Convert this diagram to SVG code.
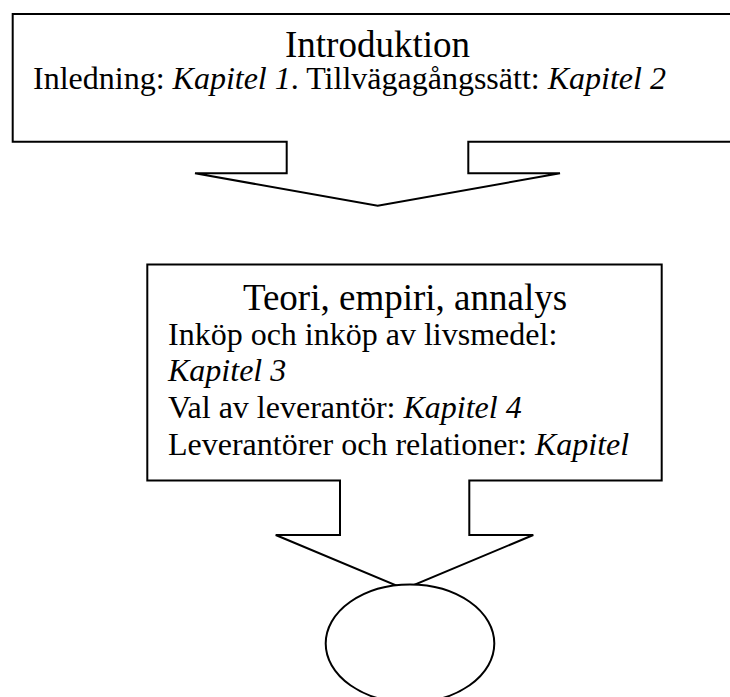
<svg xmlns="http://www.w3.org/2000/svg" width="730" height="697" viewBox="0 0 730 697">
  <style>
    .shape { fill: #ffffff; stroke: #000000; stroke-width: 2; stroke-linejoin: miter; }
    .title { font-family: "Liberation Serif", "Times New Roman", serif; font-size: 37px; fill: #000000; text-anchor: middle; }
    .body { font-family: "Liberation Serif", "Times New Roman", serif; font-size: 32px; fill: #000000; }
    .it { font-style: italic; }
  </style>
  <rect width="730" height="697" fill="#ffffff"/>

  <!-- Down-arrow callout: introduction -->
  <g id="introduktion">
    <path class="shape" d="M12.7,14 H742 V141.7 H468.3 V173.3 H560 L377.7,205.7 L195,173.3 H286.7 V141.7 H12.7 Z"/>
    <text class="title" x="377.5" y="57">Introduktion</text>
    <text class="body" x="33" y="89">Inledning: <tspan class="it">Kapitel 1</tspan>. Tillvägagångssätt: <tspan class="it">Kapitel 2</tspan></text>
  </g>

  <!-- Down-arrow callout: theory, empirics, analysis -->
  <g id="teori">
    <path class="shape" d="M147.3,264.5 H661.7 V480.5 H469.3 V535 H533.3 L404.5,589 L275.7,535 H340 V480.5 H147.3 Z"/>
    <text class="title" x="405" y="310">Teori, empiri, annalys</text>
    <text class="body" x="168" y="345">Inköp och inköp av livsmedel:</text>
    <text class="body it" x="168" y="381">Kapitel 3</text>
    <text class="body" x="168" y="418">Val av leverantör: <tspan class="it">Kapitel 4</tspan></text>
    <text class="body" x="168" y="455">Leverantörer och relationer: <tspan class="it">Kapitel</tspan></text>
  </g>

  <!-- Closing ellipse -->
  <g id="slutsats">
    <ellipse class="shape" cx="410" cy="643.5" rx="84.3" ry="59"/>
  </g>
</svg>
